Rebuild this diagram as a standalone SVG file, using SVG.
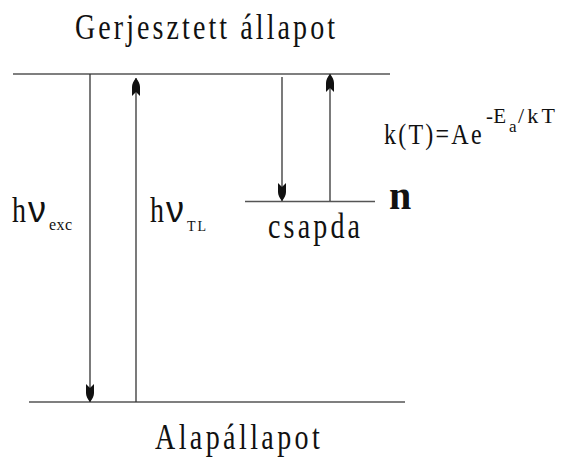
<svg xmlns="http://www.w3.org/2000/svg" width="561" height="460" viewBox="0 0 561 460">
<style>
.t{font-family:"Liberation Serif","Times New Roman",serif;fill:#111;}
.nu{font-family:"Liberation Sans",Arial,sans-serif;fill:#111;font-size:36px;}
.lvl{stroke:#555;stroke-width:1.5;fill:none;}
.arr{stroke:#333;stroke-width:1.3;fill:none;}
</style>
<defs>
<marker id="ah" markerUnits="userSpaceOnUse" viewBox="-20 -6 22 12" refX="0" refY="0" markerWidth="22" markerHeight="12" orient="auto">
<path d="M0,0 C-3,-2.5 -6,-4 -9,-4 L-18,-4 L-14,0 L-18,4 L-9,4 C-6,4 -3,2.5 0,0 Z" fill="#111"/>
</marker>
</defs>
<g id="levels">
<line id="excited" class="lvl" x1="13" y1="74" x2="390" y2="74"/>
<line id="ground" class="lvl" x1="29" y1="402" x2="405" y2="402"/>
<line id="trap" class="lvl" x1="245" y1="201.5" x2="375" y2="201.5"/>
</g>
<g id="connectors">
<line class="arr" x1="90" y1="74" x2="90" y2="402" marker-end="url(#ah)"/>
<line class="arr" x1="136" y1="402" x2="136" y2="78" marker-end="url(#ah)"/>
<line class="arr" x1="282" y1="77" x2="282" y2="201" marker-end="url(#ah)"/>
<line class="arr" x1="330" y1="201" x2="330" y2="74" marker-end="url(#ah)"/>
</g>
<g id="title">
<text class="t" font-size="35" transform="translate(75,39) scale(0.8,1)" textLength="325" lengthAdjust="spacing">Gerjesztett állapot</text>
</g>
<g id="ground-label">
<text class="t" font-size="35" transform="translate(155,449) scale(0.8,1)" textLength="206" lengthAdjust="spacing">Alapállapot</text>
</g>
<g id="trap-label">
<text class="t" font-size="35" transform="translate(268,238) scale(0.8,1)" textLength="115" lengthAdjust="spacing">csapda</text>
<text class="t" font-size="40" font-weight="bold" x="389" y="209">n</text>
</g>
<g id="exc-label">
<text class="t" font-size="35" transform="translate(12,222) scale(0.8,1)">h</text>
<text class="nu" x="28" y="222">ν</text>
<text class="t" font-size="16" x="49" y="230" textLength="23" lengthAdjust="spacing">exc</text>
</g>
<g id="tl-label">
<text class="t" font-size="35" transform="translate(150,222) scale(0.8,1)">h</text>
<text class="nu" x="166" y="222">ν</text>
<text class="t" font-size="14" x="187" y="231" textLength="19" lengthAdjust="spacing">TL</text>
</g>
<g id="rate-label">
<text class="t" font-size="30" transform="translate(384,144) scale(0.8,1)" textLength="122" lengthAdjust="spacing">k(T)=Ae</text>
<text class="t" font-size="21" x="486" y="123" textLength="20" lengthAdjust="spacing">-E</text>
<text class="t" font-size="17" x="509" y="132">a</text>
<text class="t" font-size="22" x="518" y="123" textLength="37" lengthAdjust="spacing">/kT</text>
</g>
</svg>
